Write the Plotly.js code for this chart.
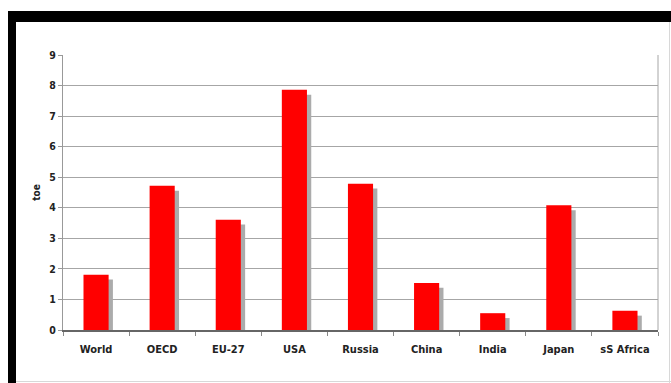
<!DOCTYPE html>
<html>
<head>
<meta charset="utf-8">
<script src="https://cdn.plot.ly/plotly-3.0.1.min.js"></script>
<style>
  html, body { margin: 0; padding: 0; background: #fff; }
  #wrap { position: relative; width: 671px; height: 383px; overflow: hidden; }
  #chart { position: absolute; left: 0; top: 0; width: 671px; height: 383px; }
  .bk { position: absolute; background: #000; }
  .gl { position: absolute; background: #d8d8d8; }
</style>
</head>
<body>
<div id="wrap">
  <div id="chart"></div>
  <div class="bk" style="left:8px; top:11px; width:663px; height:11px;"></div>
  <div class="bk" style="left:8px; top:11px; width:8px; height:372px;"></div>
  <div class="gl" style="left:16px; top:381px; width:655px; height:1px;"></div>
  <div class="gl" style="left:669px; top:22px; width:1px; height:361px;"></div>
</div>
<script>
const categories = ["World", "OECD", "EU-27", "USA", "Russia", "China", "India", "Japan", "sS Africa"];
const values = [1.81, 4.72, 3.61, 7.86, 4.79, 1.54, 0.55, 4.08, 0.63];
const yTicks = [0, 1, 2, 3, 4, 5, 6, 7, 8, 9];
const yTitle = "toe";

const barW = 0.38;
const shadowDrop = 0.16;

const shadow = {
  type: "bar",
  x: categories,
  y: values.map(v => Math.max(v - shadowDrop, 0)),
  width: barW,
  offset: -barW / 2 + 0.065,
  marker: { color: "#ababab", line: { width: 0 } },
  hoverinfo: "skip",
  showlegend: false
};
const bars = {
  type: "bar",
  x: categories,
  y: values,
  width: barW,
  offset: -barW / 2,
  marker: { color: "#ff0000", line: { width: 0 } },
  showlegend: false
};

const fam = "DejaVu Sans Condensed, DejaVu Sans, sans-serif";

const layout = {
  width: 671,
  height: 383,
  margin: { l: 63, r: 13, t: 55, b: 53 },
  paper_bgcolor: "rgba(0,0,0,0)",
  plot_bgcolor: "#fff",
  barmode: "overlay",
  font: { family: fam, size: 10, color: "#222" },
  xaxis: {
    type: "category",
    range: [-0.5, categories.length - 0.5],
    showline: true,
    linecolor: "#666",
    linewidth: 1.5,
    ticks: "outside",
    tickson: "boundaries",
    ticklen: 4,
    tickcolor: "#888",
    ticklabelstandoff: 8,
    showgrid: false,
    tickfont: { family: fam, size: 11, color: "#222", weight: "bold" },
    fixedrange: true
  },
  yaxis: {
    range: [0, 9],
    tickvals: yTicks,
    ticktext: yTicks.map(String),
    showline: true,
    linecolor: "#999",
    linewidth: 1,
    ticks: "outside",
    ticklen: 4,
    tickcolor: "#999",
    showgrid: true,
    gridcolor: "#a6a6a6",
    gridwidth: 1,
    zeroline: false,
    tickfont: { family: fam, size: 10.5, color: "#222", weight: "bold" },
    title: { text: yTitle, standoff: 6, font: { family: fam, size: 10, color: "#222", weight: "bold" } },
    fixedrange: true
  },
  shapes: [
    { type: "line", xref: "paper", yref: "paper", x0: 1, x1: 1, y0: 0, y1: 1, line: { color: "#a6a6a6", width: 1 } }
  ]
};

Plotly.newPlot("chart", [shadow, bars], layout, { displayModeBar: false, staticPlot: true });
</script>
</body>
</html>
